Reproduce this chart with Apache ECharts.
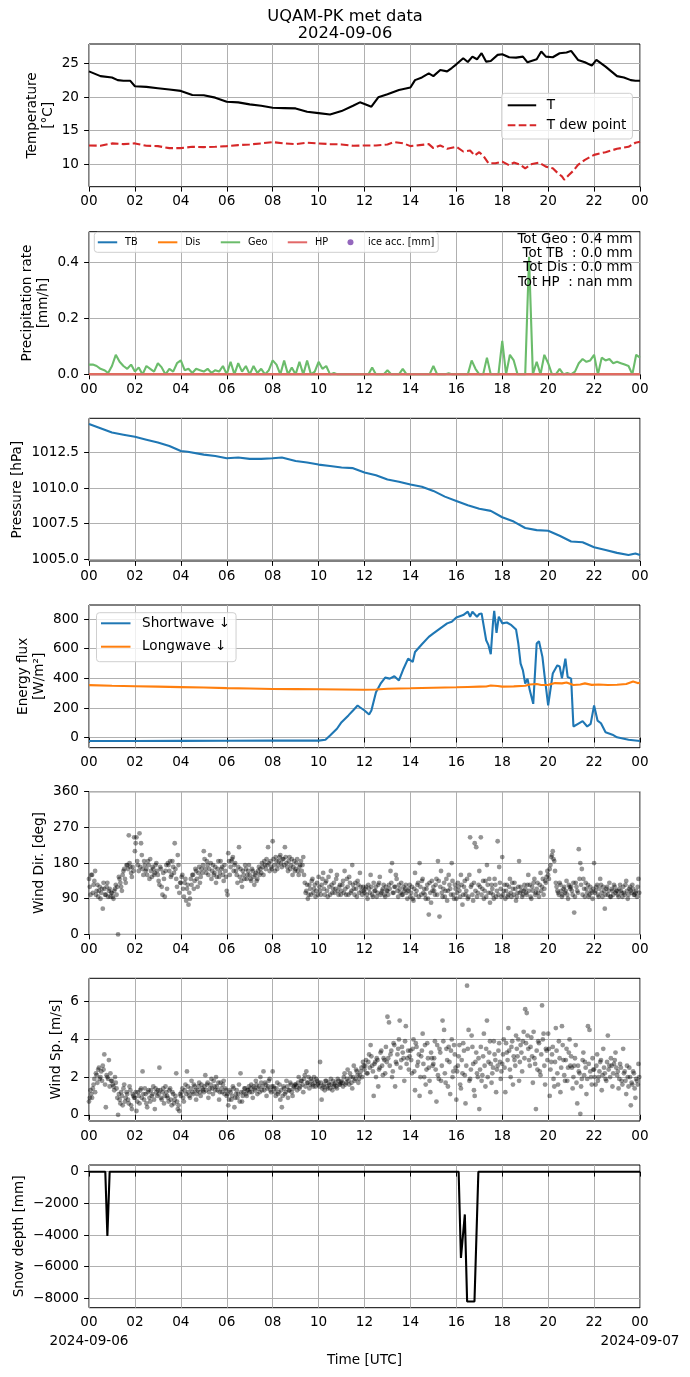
<!DOCTYPE html>
<html>
<head>
<meta charset="utf-8">
<script src="https://cdn.jsdelivr.net/npm/echarts@6/dist/echarts.min.js"></script>
<style>
  html, body { margin: 0; padding: 0; background: #fff; }
  #chart { width: 690px; height: 1377px; }
</style>
</head>
<body>
<div id="chart"></div>
<script>
// ---- data (hours UTC since 2024-09-06 00:00) ----
const dayStart = '2024-09-06'
const dayEnd = '2024-09-07'
const dayTicks = [0, 24]

const tHours = [0,0.5,1,1.25,1.5,1.8,2,2.5,3,3.5,4,4.5,5,5.5,6,6.5,7,7.5,8,8.5,9,9.5,10,10.5,11,11.5,11.8,12,12.3,12.6,13,13.5,14,14.2,14.5,14.8,15,15.3,15.6,15.8,16,16.3,16.5,16.7,16.9,17.1,17.3,17.5,17.8,18,18.3,18.6,18.9,19.1,19.5,19.7,19.9,20.2,20.5,20.8,21,21.3,21.6,21.9,22.1,22.5,23,23.3,23.6,23.8,24]
const tVals = [23.8,23.1,22.9,22.5,22.4,22.4,21.6,21.5,21.3,21.1,20.9,20.3,20.25,19.9,19.3,19.2,18.9,18.7,18.4,18.35,18.3,17.8,17.6,17.4,17.9,18.7,19.2,18.95,18.55,19.95,20.4,21.05,21.4,22.5,22.9,23.5,23.1,24.0,23.8,24.3,24.85,25.75,25.2,26.0,25.6,26.5,25.25,25.35,26.25,26.35,25.9,25.85,26.0,25.15,25.6,26.75,26.0,25.9,26.5,26.6,26.85,25.5,25.15,24.65,25.5,24.5,23.1,22.9,22.5,22.4,22.4]

const dewHours = [0,0.5,1,1.5,2,2.5,3,3.5,4,4.5,5,5.5,6,6.5,7,7.5,8,8.5,9,9.5,10,10.5,11,11.5,12,12.5,13,13.3,13.7,14,14.4,14.8,15,15.3,15.6,16,16.3,16.6,16.8,17,17.2,17.4,17.7,18,18.3,18.5,18.8,19,19.3,19.6,19.9,20.2,20.4,20.6,20.7,20.9,21.1,21.3,21.6,22,22.5,23,23.5,23.8,24]
const dewVals = [12.8,12.75,13.1,13.0,13.1,12.75,12.7,12.4,12.4,12.6,12.55,12.6,12.7,12.85,12.95,13.1,13.3,13.1,13.0,13.2,13.1,13.0,12.95,12.75,12.8,12.8,12.95,13.3,13.1,12.7,12.85,13.0,12.4,12.8,12.3,12.6,11.9,12.05,11.3,11.8,11.15,10.15,10.15,10.4,9.85,10.25,9.9,9.4,10.05,10.25,9.65,9.4,8.75,8.2,7.7,8.4,9.05,9.9,10.65,11.4,11.8,12.3,12.6,13.2,13.35]

// precipitation, one value every 10 minutes
const precipStepH = 1 / 6
const precipGeo = [
  0.035,0.035,0.03,0.02,0.015,0.005,
  0.03,0.07,0.045,0.03,0.02,0.035,
  0.01,0.025,0,0.03,0.02,0.01,
  0.04,0.025,0,0.02,0.01,0.04,
  0.05,0.015,0.02,0.005,0.02,0.015,
  0.01,0.02,0.005,0.015,0.01,0.03,
  0,0.045,0,0.04,0.01,0.03,
  0,0.03,0.005,0.02,0,0.015,
  0.05,0.035,0,0.05,0,0.025,
  0,0.045,0,0.05,0,0.01,
  0.045,0.02,0.03,0,0.005,0,
  0,0,0,0,0,0,
  0,0,0.025,0,0,0,
  0.015,0,0,0,0.02,0,
  0,0,0,0,0,0,
  0.03,0,0,0,0.004,0,
  0,0,0,0,0.05,0.02,
  0,0,0.06,0,0,0,
  0.12,0,0.07,0.05,0,0,
  0,0.42,0,0.045,0,0.07,
  0.04,0,0,0.02,0,0.005,
  0,0.01,0.04,0.055,0.045,0.05,
  0.07,0,0.06,0.05,0.055,0.04,
  0.045,0.04,0.035,0.03,0,0.07,
  0.06
]
const zeroHours = [0, 24]
const precipTB = [0, 0]
const precipDis = [0, 0]
const precipHP = [0, 0]
const precipTotals = ['Tot Geo : 0.4 mm', 'Tot TB  : 0.0 mm', 'Tot Dis : 0.0 mm', 'Tot HP  : nan mm']

const presHours = [0,0.5,1,1.5,2,2.5,3,3.5,4,4.3,5,5.5,6,6.5,7,7.5,8,8.4,9,9.5,10,10.5,11,11.5,12,12.5,13,13.5,14,14.5,15,15.5,16,16.5,17,17.5,18,18.5,19,19.5,20,20.5,21,21.5,22,22.5,23,23.5,23.8,24]
const presVals = [1014.5,1014.2,1013.9,1013.75,1013.6,1013.4,1013.2,1012.95,1012.6,1012.55,1012.35,1012.25,1012.1,1012.15,1012.05,1012.05,1012.1,1012.15,1011.9,1011.8,1011.65,1011.55,1011.45,1011.4,1011.1,1010.9,1010.6,1010.45,1010.25,1010.1,1009.8,1009.4,1009.1,1008.8,1008.55,1008.4,1007.95,1007.65,1007.2,1007.05,1007.0,1006.65,1006.25,1006.2,1005.85,1005.65,1005.45,1005.3,1005.4,1005.3]

const swHours = [0,2,4,6,8,10,10.3,10.5,10.8,11,11.3,11.5,11.7,11.8,12,12.2,12.3,12.5,12.7,12.9,13.1,13.3,13.5,13.7,13.9,14.1,14.2,14.5,14.8,15,15.3,15.6,15.8,16,16.3,16.5,16.6,16.7,16.9,17,17.1,17.3,17.4,17.5,17.6,17.65,17.75,17.85,18,18.2,18.4,18.6,18.7,18.8,18.9,19,19.1,19.2,19.35,19.5,19.6,19.75,19.85,20,20.2,20.4,20.5,20.6,20.75,20.85,21,21.1,21.3,21.5,21.7,21.85,22,22.15,22.3,22.5,22.8,23,23.5,24]
const swVals = [-23,-23,-22,-21,-20,-20,-14,14,60,104,150,183,217,205,183,156,183,307,364,405,398,414,386,465,533,511,578,630,680,703,737,771,782,811,827,850,816,850,816,834,838,657,624,563,782,856,707,816,771,777,759,730,635,499,454,364,398,319,228,635,650,545,409,217,432,488,480,400,533,409,398,75,93,111,75,93,217,115,97,36,20,2,-14,-23]
const lwHours = [0,1,2,3,4,5,6,7,8,9,10,11,12,12.5,13,14,15,16,16.5,17,17.3,17.5,17.8,18,18.5,19,19.2,19.5,19.7,20,20.3,20.6,20.8,21.1,21.4,21.6,21.9,22.2,22.6,23,23.4,23.7,23.9,24]
const lwVals = [354,350,347,344,341,338,334,331,328,327,326,325,323,325,330,333,337,340,342,344,345,352,348,344,346,350,358,362,355,356,368,366,372,355,358,366,356,358,355,357,362,378,368,370]

// wind, two interleaved sets of readings, each every 4 minutes (15 per hour), offset by 2 min
const windStepH = 4 / 60
const windOffsetB = 2 / 60
const windDir = [
  140,100,150,125,160,110,95,120,105,65,115,100,130,110,95,
  105,90,115,100,0,140,120,150,165,130,175,250,170,145,160,
  210,245,175,255,230,165,185,160,150,175,190,145,165,155,180,
  150,125,165,100,140,160,115,175,185,150,170,230,140,200,105,
  130,150,95,140,115,75,90,125,150,135,160,120,170,145,155,
  210,165,185,150,200,140,175,155,130,165,145,185,170,135,160,
  110,205,150,185,195,175,160,130,220,165,120,150,175,140,160,
  150,135,160,125,155,140,170,165,180,150,175,190,220,160,170,
  235,175,195,165,185,200,170,190,220,180,160,195,175,150,185,
  165,190,150,175,160,195,130,110,90,125,100,140,115,95,130,
  145,110,125,155,100,135,95,120,160,105,130,115,150,100,125,
  110,135,160,100,120,145,105,175,115,130,95,125,155,110,120,
  105,120,90,115,150,100,130,110,95,125,145,105,115,100,120,
  110,125,160,180,105,120,140,95,115,130,100,110,125,90,115,
  95,120,85,155,110,130,180,100,140,115,90,125,50,105,135,
  120,100,140,185,45,160,95,130,110,85,150,115,180,100,125,
  90,130,110,150,75,120,100,140,95,245,125,85,230,220,105,
  160,245,115,90,135,175,105,80,125,100,140,95,235,170,115,
  195,110,90,125,100,140,95,115,130,85,105,185,120,95,110,
  115,100,150,125,90,110,140,105,130,95,155,120,100,135,145,
  150,165,195,210,185,130,110,100,125,95,115,105,135,90,120,
  120,100,55,130,110,215,180,165,140,95,115,125,100,110,90,
  180,110,125,95,140,105,120,65,115,100,130,95,110,125,105,
  110,95,125,105,120,100,135,90,115,110,125,100,105,95,140
]
const windDirB = [
  120,150,105,135,100,125,110,90,115,130,100,120,95,115,105,
  95,110,125,120,145,130,110,160,140,175,165,180,155,170,245,
  230,185,160,170,200,150,175,165,185,140,160,170,150,175,160,
  135,170,120,155,95,175,180,160,145,185,155,165,120,175,130,
  145,115,130,85,125,105,140,150,115,165,140,155,130,165,175,
  190,155,175,165,180,160,150,170,145,185,155,165,150,175,145,
  100,185,170,190,160,180,150,170,145,135,160,140,165,150,175,
  140,165,145,150,135,160,150,155,170,185,165,175,180,185,165,
  190,160,185,175,195,180,190,175,195,170,185,165,190,170,160,
  180,160,170,185,175,150,105,125,100,115,135,105,125,110,100,
  120,100,140,115,130,110,145,100,125,115,105,140,110,120,100,
  125,105,115,140,100,130,110,125,100,115,135,105,120,100,110,
  115,100,125,105,120,95,110,120,105,130,100,110,125,95,110,
  100,115,130,105,120,150,110,125,105,100,120,115,105,110,125,
  105,90,115,100,125,95,120,135,105,100,115,90,130,80,110,
  110,125,100,135,120,105,115,95,140,110,125,100,135,90,115,
  105,120,95,125,100,135,110,90,150,120,100,130,110,95,125,
  120,100,135,110,95,125,140,105,115,90,125,110,100,130,95,
  100,125,110,95,120,105,130,100,115,95,120,105,110,100,125,
  105,125,110,95,120,130,100,115,105,125,110,140,115,130,160,
  140,175,200,190,160,120,105,130,110,100,120,110,100,125,115,
  110,130,95,120,105,140,125,100,115,130,105,95,120,105,115,
  105,120,100,115,125,95,110,100,120,110,95,115,100,120,110,
  100,115,110,95,105,125,110,100,120,105,115,100,110,120,105
]
const windSpeed = [
  0.7,1.3,0.9,1.6,1.2,2.1,2.4,1.9,2.3,2.6,3.2,0.4,2.0,2.9,2.2,
  1.8,1.5,2.0,1.4,0.0,0.8,1.2,0.5,1.6,0.9,1.1,0.6,1.3,0.3,1.0,
  0.9,0.2,1.2,0.6,1.4,2.3,0.8,1.1,0.4,1.3,0.7,1.0,1.5,0.3,1.2,
  1.3,2.5,0.9,1.2,0.6,1.5,1.0,0.7,1.4,0.5,1.1,0.8,2.2,0.3,0.2,
  1.0,1.4,0.7,1.6,2.3,1.2,0.9,1.8,1.1,1.5,0.8,1.3,1.7,1.0,1.4,
  1.2,2.1,1.6,0.9,1.4,1.9,1.1,1.5,2.0,1.3,0.8,1.7,1.2,1.8,1.4,
  1.0,0.5,1.3,0.8,1.5,0.4,1.1,0.9,1.6,2.2,0.7,1.2,1.4,1.0,1.3,
  1.2,1.6,0.9,1.4,1.8,1.1,1.5,2.0,1.3,2.3,1.7,1.0,1.5,1.9,1.2,
  2.3,1.4,1.0,1.7,1.2,0.8,0.4,1.5,1.1,1.8,0.9,1.3,1.6,1.0,1.5,
  1.6,1.3,2.0,1.5,1.8,1.2,2.1,2.3,1.7,1.4,1.9,1.6,2.0,1.5,1.8,
  1.7,2.8,0.8,1.5,1.3,1.8,1.4,1.6,1.9,1.3,1.5,1.7,1.4,1.8,1.6,
  1.8,1.5,2.2,1.7,2.4,1.6,2.0,1.4,2.6,1.9,2.3,1.7,2.1,2.5,2.8,
  2.4,2.9,2.2,3.2,3.7,2.6,1.0,2.8,3.0,1.5,2.5,3.4,2.1,2.9,3.6,
  5.2,4.9,3.2,2.0,3.8,1.5,2.7,3.5,5.0,2.9,3.3,1.8,4.7,3.0,2.4,
  3.4,2.2,4.0,1.3,3.6,2.8,1.0,3.1,4.3,2.0,1.6,3.8,2.5,1.2,3.0,
  2.7,3.9,0.7,2.1,3.5,1.8,5.0,4.5,1.7,2.9,3.6,1.1,4.0,2.3,3.2,
  0.8,2.6,3.7,1.4,2.2,3.4,0.6,6.85,4.5,1.9,4.2,2.7,1.0,3.3,2.0,
  0.3,3.6,2.1,4.3,1.5,5.0,2.8,3.9,1.7,2.5,3.2,1.2,2.6,3.8,1.9,
  2.7,4.0,1.2,3.3,4.6,2.4,3.6,1.6,2.9,4.2,3.1,1.8,3.7,2.3,4.4,
  5.6,5.4,3.5,2.6,4.1,1.7,3.0,0.3,2.4,3.8,2.1,5.8,4.3,1.6,3.4,
  4.3,1.0,2.8,3.6,1.5,4.6,2.2,3.9,1.2,4.7,2.9,1.8,3.5,2.5,4.0,
  3.1,1.4,2.6,3.7,0.6,2.3,0.05,1.9,3.3,2.8,1.1,4.7,4.5,2.0,3.0,
  2.4,1.6,3.2,2.0,2.8,1.3,3.5,2.2,1.8,4.2,2.6,3.0,1.5,2.7,3.3,
  2.1,1.4,2.7,1.8,3.5,2.3,1.1,2.0,2.5,0.5,1.6,2.2,0.9,1.8,2.7
]
const windSpeedB = [
  0.9,1.1,1.4,1.9,2.2,1.7,2.5,2.0,1.8,2.4,1.6,2.1,1.9,1.5,1.8,
  1.6,1.3,1.7,0.9,1.1,0.6,1.0,1.4,0.7,1.2,0.8,1.5,0.5,1.1,0.9,
  1.2,0.7,1.0,1.3,0.9,1.1,1.4,0.6,1.2,0.9,1.3,1.1,0.8,1.4,1.0,
  1.1,1.3,0.8,1.4,1.0,1.2,0.9,1.3,0.8,1.2,0.6,1.0,0.7,0.5,1.1,
  1.2,0.9,1.3,1.1,1.5,1.0,1.4,1.2,1.6,1.3,1.1,1.5,1.2,1.6,1.3,
  1.5,1.3,1.7,1.2,1.6,1.4,1.8,1.3,1.5,1.7,1.2,1.4,1.6,1.1,1.3,
  1.1,0.8,1.2,1.0,1.4,0.9,1.3,1.1,0.7,1.2,1.0,1.4,1.1,1.3,1.5,
  1.4,1.2,1.5,1.3,1.6,1.4,1.2,1.7,1.5,1.3,1.6,1.4,1.8,1.3,1.5,
  1.5,1.2,1.4,1.1,1.6,1.3,1.0,1.4,1.2,1.5,1.3,1.7,1.2,1.4,1.6,
  1.5,1.7,1.4,1.8,1.6,1.9,1.5,1.7,2.0,1.6,1.8,1.5,1.7,1.9,1.6,
  1.5,1.7,1.4,1.6,1.8,1.5,1.7,1.4,1.6,1.8,1.6,1.5,1.9,1.6,1.7,
  1.7,2.0,1.6,1.9,1.8,2.2,1.7,2.0,1.8,2.4,2.1,1.9,2.3,2.0,2.6,
  2.6,2.2,2.8,2.5,3.1,2.3,2.7,2.0,2.9,2.4,3.3,2.6,3.0,2.2,2.8,
  3.0,2.6,3.4,2.3,3.7,2.8,3.2,4.0,2.5,3.6,3.0,3.9,2.7,3.4,3.1,
  2.9,3.5,2.3,3.8,2.6,3.2,2.0,3.4,2.7,3.7,2.4,3.0,1.8,3.3,2.6,
  3.0,2.4,3.7,1.9,3.3,2.6,3.9,2.2,3.5,1.5,2.8,3.4,2.0,3.7,2.5,
  2.3,3.1,1.6,2.9,3.8,2.1,2.6,3.5,1.8,2.4,3.6,1.3,2.8,2.2,3.0,
  2.4,1.8,3.1,2.6,3.5,2.0,3.3,2.7,2.2,3.9,2.9,2.4,3.4,2.8,2.3,
  3.2,2.5,3.8,2.9,3.4,2.0,3.9,3.1,2.6,3.5,4.0,2.8,3.3,3.9,3.0,
  3.8,4.2,2.9,3.6,3.1,4.4,2.7,3.4,3.9,2.3,3.2,4.0,2.6,3.5,2.9,
  3.5,2.4,3.2,1.9,2.8,3.4,1.6,3.0,2.5,3.7,2.1,2.9,1.8,3.3,2.6,
  2.5,2.0,3.0,1.7,2.6,2.2,1.5,2.9,2.1,2.5,1.9,2.7,2.3,1.6,2.4,
  2.0,2.6,1.8,2.3,2.9,2.1,2.5,1.9,2.8,2.4,2.0,2.6,2.2,2.9,2.5,
  2.3,1.9,2.5,1.6,2.2,1.8,2.6,1.5,2.0,1.7,2.3,1.4,1.9,1.6,2.0
]

const snowHours = [0,0.71,0.8,0.9,16.1,16.2,16.37,16.47,16.79,16.96,24]
const snowVals = [0,0,-4050,0,0,-5450,-2700,-8190,-8190,0,0]

// y tick values per panel
const tempTicks = [10, 15, 20, 25]
const precipTicks = [0, 0.2, 0.4]
const presTicks = [1005, 1007.5, 1010, 1012.5]
const fluxTicks = [0, 200, 400, 600, 800]
const speedTicks = [0, 2, 4, 6]
const snowTicks = [-8000, -6000, -4000, -2000, 0]

// ---- helpers ----
const FONT = 'DejaVu Sans'
const FS = 13.6
const LW = 2.1
const pairs = (xs, ys) => xs.map((x, i) => [x, ys[i]])
const stepped = (ys, step, offset) => ys.map((y, i) => [i * step + (offset || 0), y])
const minus = s => String(s).replace('-', '\u2212')

const panelTops = [44, 231.7, 418.3, 605, 791.7, 978.3, 1165]
const lastPanel = panelTops.length - 1
const grids = panelTops.map(t => ({
  left: 89, top: t, width: 551, height: 142.7,
  show: true, borderColor: '#000', borderWidth: 1, backgroundColor: 'rgba(0,0,0,0)',
  containLabel: false, outerBoundsMode: 'none'
}))

const gridLine = { show: true, lineStyle: { color: '#b0b0b0', width: 1 } }
const tick = { show: true, length: 4.9, lineStyle: { color: '#000', width: 1 } }
const labelFont = { color: '#000', fontFamily: FONT, fontSize: FS }

const xAxes = panelTops.map((t, i) => ({
  type: 'value', gridIndex: i, position: 'bottom', min: 0, max: 24, interval: 2,
  axisLine: { show: false }, axisTick: tick, splitLine: gridLine,
  axisLabel: Object.assign({
    margin: 8, interval: 0, showMinLabel: true, showMaxLabel: true, hideOverlap: false,
    formatter: v => String(v % 24).padStart(2, '0')
  }, labelFont)
}))
// second row of labels under the last panel: the dates, plus the axis title
xAxes.push({
  type: 'value', gridIndex: lastPanel, position: 'bottom', offset: 0, min: 0, max: 24,
  axisLine: { show: false }, axisTick: { show: false }, splitLine: { show: false },
  axisLabel: Object.assign({
    margin: 26.5, customValues: dayTicks, showMinLabel: true, showMaxLabel: true, hideOverlap: false,
    formatter: v => (v === 0 ? dayStart : dayEnd)
  }, labelFont),
  name: 'Time [UTC]', nameLocation: 'middle', nameGap: 45.5, nameMoveOverlap: false,
  nameTextStyle: labelFont
})

function yAxis(i, name, gap, opts) {
  const custom = opts.ticks
  return Object.assign({
    type: 'value', gridIndex: i, scale: true,
    axisLine: { show: false },
    axisTick: Object.assign({}, tick, custom ? { customValues: custom } : {}),
    splitLine: gridLine,
    axisLabel: Object.assign({
      margin: 10, formatter: opts.fmt || (v => minus(v))
    }, labelFont, custom ? { customValues: custom } : {}),
    name: name, nameLocation: 'middle', nameRotate: 90, nameGap: gap, nameMoveOverlap: false,
    nameTextStyle: Object.assign({ lineHeight: 16.5 }, labelFont)
  }, opts.range)
}

const yAxes = [
  yAxis(0, 'Temperature\n[°C]', 32, { ticks: tempTicks, range: { min: 6.67, max: 27.87 } }),
  yAxis(1, 'Precipitation rate\n[mm/h]', 37, { ticks: precipTicks, fmt: v => v.toFixed(1), range: { min: 0, max: 0.51 } }),
  yAxis(2, 'Pressure [hPa]', 63, { ticks: presTicks, fmt: v => v.toFixed(1), range: { min: 1004.88, max: 1014.9 } }),
  yAxis(3, 'Energy flux\n[W/m²]', 41, { ticks: fluxTicks, range: { min: -68, max: 895 } }),
  yAxis(4, 'Wind Dir. [deg]', 41, { range: { min: 0, max: 360, interval: 90 } }),
  yAxis(5, 'Wind Sp. [m/s]', 24, { ticks: speedTicks, range: { min: -0.33, max: 7.24 } }),
  yAxis(6, 'Snow depth [mm]', 61, { ticks: snowTicks, range: { min: -8586, max: 422 } })
]

function line(name, idx, data, color, extra) {
  return Object.assign({
    name: name, type: 'line', xAxisIndex: idx, yAxisIndex: idx, data: data,
    symbol: 'none', showSymbol: false, animation: false,
    lineStyle: { color: color, width: LW }, itemStyle: { color: color }
  }, extra || {})
}
function dots(name, idx, data) {
  return {
    name: name, type: 'scatter', xAxisIndex: idx, yAxisIndex: idx, data: data,
    symbolSize: 4.8, animation: false,
    itemStyle: { color: 'rgba(0,0,0,0.52)' }
  }
}

const legendBox = {
  borderColor: '#cfcfcf', borderWidth: 1, borderRadius: 3,
  backgroundColor: 'rgba(255,255,255,0.8)', selectedMode: false,
  itemStyle: { opacity: 0 }
}

const option = {
  animation: false,
  backgroundColor: '#fff',
  textStyle: { fontFamily: FONT },
  grid: grids,
  xAxis: xAxes,
  yAxis: yAxes,
  legend: [
    Object.assign({
      orient: 'vertical', left: 501.7, top: 93.3, data: ['T', 'T dew point'],
      itemWidth: 28.5, itemHeight: 14, itemGap: 6, padding: [5, 6, 6.7, 5],
      textStyle: Object.assign({ padding: [0, 0, 0, 5.5] }, labelFont)
    }, legendBox),
    Object.assign({
      orient: 'horizontal', left: 94.3, top: 232.3,
      data: ['TB', 'Dis', 'Geo', 'HP', { name: 'ice acc. [mm]', icon: 'circle', itemStyle: { opacity: 1 } }],
      itemWidth: 19.4, itemHeight: 6, itemGap: 19.4, padding: [5, 4, 5, 2.5],
      textStyle: { color: '#000', fontFamily: FONT, fontSize: 9.7, padding: [0, 0, 0, 2.8] }
    }, legendBox),
    Object.assign({
      orient: 'vertical', left: 96.5, top: 612.7, data: ['Shortwave \u2193', 'Longwave \u2193'],
      itemWidth: 29.5, itemHeight: 14, itemGap: 9.4, padding: [3.6, 6, 8, 3.5],
      textStyle: Object.assign({ padding: [0, 0, 0, 6.5] }, labelFont)
    }, legendBox)
  ],
  graphic: [
    { type: 'text', x: 345, y: 16.7, style: { text: 'UQAM-PK met data', fill: '#000', font: '16.3px "DejaVu Sans"', textAlign: 'center', textVerticalAlign: 'middle' } },
    { type: 'text', x: 345, y: 33.3, style: { text: dayStart, fill: '#000', font: '16.3px "DejaVu Sans"', textAlign: 'center', textVerticalAlign: 'middle' } },
    { type: 'text', x: 632.5, y: 232.5, z: 100, style: { text: precipTotals.join('\n'), fill: '#000', font: '13.4px "DejaVu Sans"', textAlign: 'right', textVerticalAlign: 'top', lineHeight: 14.2 } }
  ],
  series: [
    line('T', 0, pairs(tHours, tVals), '#000000'),
    line('T dew point', 0, pairs(dewHours, dewVals), '#d62728', { lineStyle: { color: '#d62728', width: LW, type: [7.7, 3.3] } }),

    line('TB', 1, pairs(zeroHours, precipTB), '#1f77b4'),
    line('Dis', 1, pairs(zeroHours, precipDis), '#ff7f0e'),
    line('Geo', 1, stepped(precipGeo, precipStepH), '#6bbc6b'),
    line('HP', 1, pairs(zeroHours, precipHP), '#e26868'),
    { name: 'ice acc. [mm]', type: 'scatter', xAxisIndex: 1, yAxisIndex: 1, data: [], symbolSize: 5, itemStyle: { color: '#9467bd' } },

    line('Pressure', 2, pairs(presHours, presVals), '#1f77b4'),

    line('Shortwave \u2193', 3, pairs(swHours, swVals), '#1f77b4'),
    line('Longwave \u2193', 3, pairs(lwHours, lwVals), '#ff7f0e'),

    dots('Wind direction', 4, stepped(windDir, windStepH)),
    dots('Wind direction B', 4, stepped(windDirB, windStepH, windOffsetB)),
    dots('Wind speed', 5, stepped(windSpeed, windStepH)),
    dots('Wind speed B', 5, stepped(windSpeedB, windStepH, windOffsetB)),

    line('Snow depth', lastPanel, pairs(snowHours, snowVals), '#000000')
  ]
}

const chart = echarts.init(document.getElementById('chart'), null, { renderer: 'canvas', width: 690, height: 1377 })
chart.setOption(option)
</script>
</body>
</html>
